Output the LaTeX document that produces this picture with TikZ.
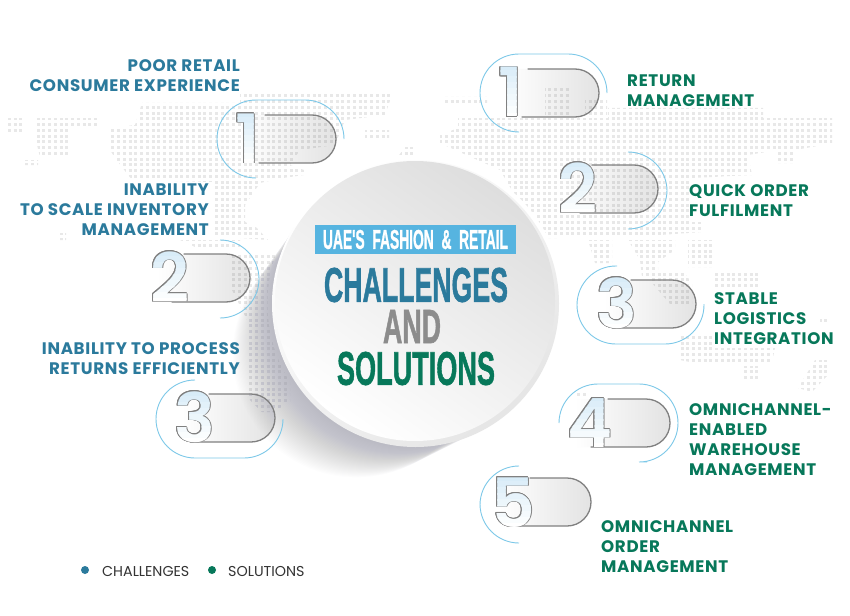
\documentclass[tikz,border=0pt]{standalone}
\usepackage{fontspec}
\setmainfont{Poppins}
\newfontfamily\labelfont[LetterSpace=4]{Poppins}
\newfontfamily\numfont{Poppins SemiBold}
\newfontfamily\headfont[FakeBold=1.5]{Liberation Sans Bold}
\definecolor{chalblue}{HTML}{2B7A9C}
\definecolor{solgreen}{HTML}{07785A}
\definecolor{ringblue}{HTML}{7CC8E8}
\definecolor{bannerblue}{HTML}{56B4E0}
\definecolor{andgray}{HTML}{8C8C8C}
\definecolor{pillgray}{HTML}{808080}
\definecolor{digitblue}{HTML}{D8ECF8}
\definecolor{shadowgray}{HTML}{6E6E80}
\tikzset{
    chal/.style={font=\labelfont\bfseries\fontsize{16.7}{20}\selectfont, text=chalblue, align=right, anchor=east, inner sep=0pt},
    sol/.style={font=\labelfont\bfseries\fontsize{16.7}{20}\selectfont, text=solgreen, align=left, anchor=west, inner sep=0pt},
    ring/.style={draw=ringblue, line width=0.9pt, rounded corners=39pt},
    pill/.style={draw=pillgray, line width=1.3pt, line cap=round},
    mapdots/.style={draw=black, draw opacity=0.09, line width=3pt, dash pattern=on 3pt off 2.75pt},
    legend/.style={font=\fontsize{14.3}{16}\selectfont, text=black!80, anchor=west, inner sep=0pt}
}
% outlined numeral: #1 name, (#2,#3) base point, #4 the digit
\newcommand{\outlinenum}[4]{
    \foreach \a in {0,30,...,330}
        \node [anchor=base west, inner sep=0pt, text=pillgray, font=\numfont\fontsize{68}{68}\selectfont] (#1-o\a) at ([shift={(\a:0.9pt)}] #2,#3) {#4};
    \foreach \s in {0,...,8} {
        \begin{scope}
            \clip (#2-5,#3-52+6*\s) rectangle (#2+60,#3-45+6*\s);
            \pgfmathsetmacro{\tint}{max(0,100-12.5*\s)}
            \node [anchor=base west, inner sep=0pt, text=digitblue!\tint!white, font=\numfont\fontsize{68}{68}\selectfont] (#1-s\s) at (#2,#3) {#4};
        \end{scope}
    }
}
% pill outline: top, right, start of top line, start of bottom line
\newcommand{\pillline}[4]{
    \draw [pill] (#3,#1) -- (#2-24,#1) arc (-90:90:24) -- (#4,#1+48);
}
\newcommand{\headline}[3]{\resizebox{#1pt}{#2pt}{\headfont #3}}

\begin{document}
\begin{tikzpicture}[x=1pt,y=-1pt]
    \useasboundingbox (0,0) rectangle (850,615);
    \fill [white] (0,0) rectangle (850,615);

    % pill bodies sit under the dots
    \foreach \l/\t/\r in {237/115/336,151/254/250,176/394/275,500/69/599,559/165/658,598/280/696,569/399/670,493/478/591}
        \shade [left color=white, right color=black!11] (\l+6,\t) -- (\r-24,\t) arc (-90:90:24) -- (\l+6,\t+48) -- cycle;

    % world map
    \begin{scope}
        \clip (5,118) -- (24,118) -- (24,132) -- (5,132) -- cycle
              (37,118) -- (98,118) -- (98,127) -- (70,127) -- (70,157) -- (40,157) -- (37,145) -- cycle
              (22,160) -- (38,160) -- (38,165) -- (22,165) -- cycle
              (60,233) -- (66,233) -- (66,240) -- (60,240) -- cycle
              (110,128) -- (135,125) -- (142,103) -- (240,103) -- (240,92) -- (393,92) -- (385,115) -- (345,120) -- (335,145) -- (300,150) -- (290,165) -- (304,170) -- (304,175) -- (283,178) -- (260,183) -- (245,205) -- (245,222) -- (257,228) -- (268,240) -- (213,236) -- (213,182) -- (132,180) -- (115,158) -- (110,150) -- cycle
              (365,130) -- (389,130) -- (389,138) -- (365,138) -- cycle
              (397,158) -- (405,147) -- (414,147) -- (414,158) -- cycle
              (180,240) -- (240,240) -- (240,247) -- (195,247) -- cycle
              (232,253) -- (290,253) -- (290,398) -- (276,412) -- (262,412) -- (250,400) -- (247,385) -- (247,320) -- (232,290) -- cycle
              (280,397) -- (290,397) -- (290,403) -- (280,403) -- cycle
              (445,97) -- (487,97) -- (487,104) -- (445,104) -- cycle
              (545,87) -- (570,87) -- (570,116) -- (545,116) -- cycle
              (585,100) -- (607,100) -- (607,116) -- (585,116) -- cycle
              (440,135) -- (458,128) -- (458,118) -- (608,118) -- (608,108) -- (763,108) -- (763,118) -- (832,118) -- (832,143) -- (812,147) -- (795,150) -- (795,163) -- (778,163) -- (778,150) -- (748,155) -- (752,175) -- (692,178) -- (690,222) -- (702,222) -- (702,232) -- (660,235) -- (560,238) -- (540,238) -- (500,170) -- (455,150) -- (440,143) -- cycle
              (588,240) -- (612,240) -- (612,263) -- (595,263) -- cycle
              (628,240) -- (675,240) -- (675,250) -- (658,262) -- (658,277) -- (642,277) -- (640,260) -- cycle
              (688,240) -- (712,240) -- (712,267) -- (688,267) -- cycle
              (652,270) -- (682,270) -- (692,283) -- (692,304) -- (670,304) -- (652,283) -- cycle
              (712,270) -- (760,270) -- (760,287) -- (712,287) -- cycle
              (678,335) -- (712,335) -- (712,348) -- (775,348) -- (772,362) -- (745,365) -- (735,362) -- (690,362) -- (680,360) -- cycle
              (742,366) -- (758,366) -- (758,380) -- (742,380) -- cycle
              (798,388) -- (815,360) -- (828,360) -- (828,375) -- (812,392) -- cycle
              (820,316) -- (828,316) -- (828,323) -- (820,323) -- cycle
              (575,391) -- (586,391) -- (586,397) -- (575,397) -- cycle;
        \foreach \r in {0,...,60}
            \draw [mapdots] (2,{90+5.75*\r}) -- (850,{90+5.75*\r});
    \end{scope}

    % disc, its halo and shadow
    \fill [white] (415.5,303.5) circle (148);
    \foreach \d in {0,2,...,78}
        \fill [shadowgray, opacity=0.0105] ({415.5-0.76*\d},{303.5+0.648*\d}) circle ({142-0.24*\d});
    \shade [top color=white, bottom color=black!10, shading angle=40] (415.5,303.5) circle (143.5);
    \shade [top color=black!13, middle color=black!5, bottom color=white, shading angle=-35] (415,301) circle (140);

    \node [fill=bannerblue, minimum width=201pt, minimum height=29pt, inner sep=0pt, text=white] (banner) at (415.5,239.5) {\headline{185}{19}{UAE'S\ \ FASHION\ \ \&\ \ RETAIL}};
    \node [inner sep=0pt, text=chalblue] (chaltitle) at (416,285) {\headline{184}{34}{CHALLENGES}};
    \node [inner sep=0pt, text=andgray] (andtitle) at (412,326.5) {\headline{58}{33}{AND}};
    \node [inner sep=0pt, text=solgreen] (soltitle) at (416,368.5) {\headline{158}{33}{SOLUTIONS}};

    % challenges
    \draw [ring] (344,139) -- (344,100) -- (217,100) -- (217,178) -- (256,178);
    \pillline{115}{336}{265}{259}
    \outlinenum{cone}{235}{163}{1}
    \draw [ring] (220,240) -- (259,240) -- (259,318) -- (220,318);
    \pillline{254}{250}{184}{172}
    \outlinenum{ctwo}{150}{302}{2}
    \draw [ring] (195,380) -- (156,380) -- (156,458) -- (283,458) -- (283,419);
    \pillline{394}{275}{209}{190}
    \outlinenum{cthree}{174}{442}{3}

    % solutions
    \draw [ring] (607,93) -- (607,54) -- (480,54) -- (480,132) -- (519,132);
    \pillline{69}{599}{528}{522}
    \outlinenum{sone}{498}{117}{1}
    \draw [ring] (629,152) -- (667,152) -- (667,229) -- (629,229);
    \pillline{165}{658}{592}{580}
    \outlinenum{stwo}{558}{213}{2}
    \draw [ring] (617,266) -- (577,266) -- (577,344) -- (704,344) -- (704,304);
    \pillline{280}{696}{631}{612}
    \outlinenum{sthree}{596}{328}{3}
    \draw [ring] (559,423) -- (559,384) -- (678,384) -- (678,462) -- (647,462);
    \pillline{399}{670}{608}{591}
    \outlinenum{sfour}{567}{447}{4}
    \draw [ring] (519,466) -- (480,466) -- (480,543) -- (519,543);
    \pillline{478}{591}{530}{510}
    \outlinenum{sfive}{491}{527}{5}

    \node [chal] (poor) at (240,75.5) {POOR RETAIL\\CONSUMER EXPERIENCE};
    \node [chal] (scale) at (209,209.5) {INABILITY\\TO SCALE INVENTORY\\MANAGEMENT};
    \node [chal] (process) at (240,358.5) {INABILITY TO PROCESS\\RETURNS EFFICIENTLY};

    \node [sol] (returns) at (627,90.5) {RETURN\\MANAGEMENT};
    \node [sol] (quick) at (689,200.5) {QUICK ORDER\\FULFILMENT};
    \node [sol] (stable) at (714,318.5) {STABLE\\LOGISTICS\\INTEGRATION};
    \node [sol] (warehouse) at (689,439.5) {OMNICHANNEL-\\ENABLED\\WAREHOUSE\\MANAGEMENT};
    \node [sol] (order) at (601,546.5) {OMNICHANNEL\\ORDER\\MANAGEMENT};

    \fill [chalblue] (85,570) circle (4);
    \node [legend] (legchal) at (102,571.5) {CHALLENGES};
    \fill [solgreen] (212,570) circle (4);
    \node [legend] (legsol) at (228,571.5) {SOLUTIONS};
\end{tikzpicture}
\end{document}
